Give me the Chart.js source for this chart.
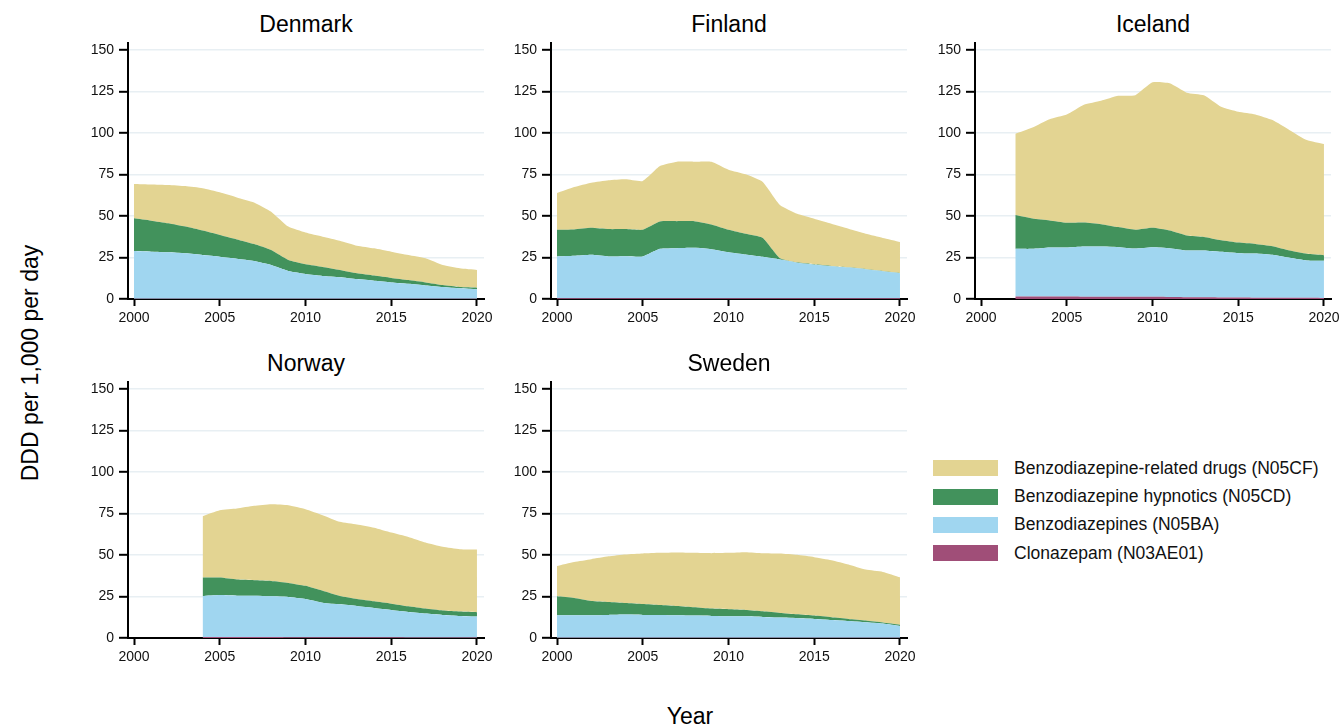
<!DOCTYPE html>
<html>
<head>
<meta charset="utf-8">
<script src="https://cdn.jsdelivr.net/npm/chart.js@4"></script>
<style>
  body { margin: 0; background: #fff; font-family: "Liberation Sans", Arial, sans-serif; }
  #page { position: relative; width: 1341px; height: 727px; overflow: hidden; }
  .panel { position: absolute; width: 432px; height: 335px; }
  .ptitle { position: absolute; width: 356px; text-align: center; font-size: 23px; line-height: 23px; color: #000; }
  .ytitle { position: absolute; left: 30px; top: 363px; transform: translate(-50%, -50%) rotate(-90deg);
            font-size: 23px; white-space: nowrap; color: #000; }
  .xtitle { position: absolute; left: 690px; top: 716px; transform: translate(-50%, -50%);
            font-size: 23px; color: #000; }
  #legend { position: absolute; left: 933px; top: 454px; }
  .item { display: flex; align-items: center; height: 28.4px; font-size: 17.5px; color: #111; }
  .swatch { width: 65px; height: 16px; margin-right: 16px; }
</style>
</head>
<body>
<div id="page">
  <div class="ytitle">DDD per 1,000 per day</div>
  <div class="xtitle">Year</div>
  <div id="legend"></div>
</div>
<script>
const years = [2000, 2001, 2002, 2003, 2004, 2005, 2006, 2007, 2008, 2009, 2010,
               2011, 2012, 2013, 2014, 2015, 2016, 2017, 2018, 2019, 2020];
const xTicks = [2000, 2005, 2010, 2015, 2020];
const yTicks = [0, 25, 50, 75, 100, 125, 150];

const seriesNames = ["Benzodiazepine-related drugs (N05CF)", "Benzodiazepine hypnotics (N05CD)",
                     "Benzodiazepines (N05BA)", "Clonazepam (N03AE01)"];
const seriesColors = ["#e3d492", "#42925c", "#a0d6f0", "#a04e78"];

// Denmark
const dkClon = [0.2,0.2,0.2,0.2,0.2,0.2,0.2,0.2,0.2,0.2,0.2,0.2,0.2,0.2,0.2,0.2,0.2,0.2,0.2,0.2,0.2];
const dkBenzo = [28.7,28.3,27.9,27.3,26.3,25.3,24.1,22.7,20.3,16.7,14.9,13.7,12.9,11.8,10.8,9.8,9.0,8.0,7.0,6.2,5.6];
const dkHyp = [19.7,18.7,17.5,16.1,14.7,13.1,11.6,10.2,9.0,6.6,5.8,5.4,4.4,3.5,3.1,2.7,2.2,1.8,1.2,0.8,1.0];
const dkRel = [20.7,21.8,23.1,24.4,25.5,25.7,25.3,25.1,23.1,20.1,19.1,18.2,17.6,16.6,16.4,15.8,15.1,14.5,12.1,11.3,10.7];

// Finland
const fiClon = [0.4,0.4,0.4,0.4,0.4,0.4,0.4,0.4,0.4,0.4,0.4,0.4,0.4,0.4,0.4,0.4,0.4,0.4,0.4,0.4,0.4];
const fiBenzo = [25.2,25.6,26.2,25.2,25.4,25.2,29.8,30.2,30.4,29.6,27.8,26.4,25.0,23.4,21.5,20.3,19.3,18.5,17.5,16.3,15.1];
const fiHyp = [16.1,15.9,16.3,16.5,16.3,16.1,16.5,16.3,16.1,14.9,13.5,12.5,11.4,0.8,0.2,0.2,0.2,0.2,0.2,0.2,0.2];
const fiRel = [22.1,25.5,27.1,29.4,30.0,29.4,33.4,35.8,35.8,37.8,36.2,35.8,33.7,32.0,29.2,27.4,25.4,23.2,21.2,19.9,18.7];

// Iceland (from 2002)
const isClon = [null,null,1.5,1.5,1.5,1.5,1.4,1.4,1.4,1.3,1.3,1.2,1.1,1.0,0.9,0.9,0.8,0.8,0.7,0.7,0.6];
const isBenzo = [null,null,28.7,28.7,29.5,29.5,30.2,30.2,29.8,29.1,29.9,29.4,28.1,28.2,27.5,26.7,26.6,25.8,24.1,22.5,22.4];
const isHyp = [null,null,20.4,18.3,16.3,14.9,14.5,13.5,12.1,11.3,11.7,10.7,9.1,8.2,7.0,6.4,5.8,5.2,4.4,4.0,3.4];
const isRel = [null,null,48.9,54.8,61.0,65.2,70.9,74.3,79.1,81.1,87.6,88.6,86.0,85.3,80.4,78.8,78.0,76.0,72.5,68.5,66.9];

// Norway (from 2004)
const noClon = [null,null,null,null,0.6,0.6,0.6,0.6,0.6,0.5,0.5,0.5,0.4,0.4,0.4,0.4,0.3,0.3,0.3,0.3,0.3];
const noBenzo = [null,null,null,null,24.7,25.3,24.9,24.9,24.5,24.2,23.0,20.8,19.9,18.9,17.7,16.5,15.4,14.4,13.6,13.0,12.6];
const noHyp = [null,null,null,null,11.1,10.5,9.7,9.3,9.3,8.5,7.9,7.1,5.0,4.2,4.0,3.8,3.4,3.0,2.6,2.6,2.6];
const noRel = [null,null,null,null,37.0,40.6,42.8,44.8,46.2,46.8,46.2,45.6,44.7,44.9,44.3,42.8,41.8,39.8,38.4,37.6,37.8];

// Sweden
const seClon = [0.2,0.2,0.2,0.2,0.2,0.2,0.2,0.2,0.2,0.2,0.2,0.2,0.2,0.2,0.2,0.2,0.2,0.2,0.2,0.2,0.2];
const seBenzo = [13.5,13.5,13.5,13.7,13.9,13.7,13.7,13.5,13.3,13.1,12.9,12.9,12.5,12.1,11.7,11.3,10.7,10.1,9.3,8.5,7.0];
const seHyp = [11.4,10.4,8.6,7.8,7.0,6.6,6.0,5.6,5.0,4.4,4.2,3.8,3.4,2.8,2.4,2.0,1.6,1.2,1.0,0.6,0.8];
const seRel = [18.3,21.7,25.2,27.5,29.2,30.4,31.4,32.2,32.8,33.4,34.0,34.8,35.0,35.8,35.8,35.2,34.4,32.8,30.7,30.5,28.6];

// panel: title, [related, hypnotics, benzos, clonazepam], chart area left/top
const panels = [
  ["Denmark", [dkRel, dkHyp, dkBenzo, dkClon], 128, 43],
  ["Finland", [fiRel, fiHyp, fiBenzo, fiClon], 551, 43],
  ["Iceland", [isRel, isHyp, isBenzo, isClon], 975, 43],
  ["Norway",  [noRel, noHyp, noBenzo, noClon], 128, 382],
  ["Sweden",  [seRel, seHyp, seBenzo, seClon], 551, 382]
];

const FONT = "'Liberation Sans', Arial, sans-serif";
Chart.defaults.font.family = FONT;
Chart.defaults.color = "#111";

function points(vals) {
  return years.map((yr, i) => vals[i] == null ? null : {x: yr, y: vals[i]}).filter(p => p);
}

const page = document.getElementById("page");

panels.forEach(([title, series, areaLeft, areaTop]) => {
  const head = document.createElement("div");
  head.className = "ptitle";
  head.textContent = title;
  head.style.left = areaLeft + "px";
  head.style.top = (areaTop - 30) + "px";
  page.appendChild(head);

  const box = document.createElement("div");
  box.className = "panel";
  box.style.left = (areaLeft - 58) + "px";
  box.style.top = (areaTop - 43) + "px";
  const cv = document.createElement("canvas");
  box.appendChild(cv);
  page.appendChild(box);

  // bottom layer first so the stack fills upward
  const datasets = [3, 2, 1, 0].map((k, j) => ({
    label: seriesNames[k],
    data: points(series[k]),
    backgroundColor: seriesColors[k],
    borderColor: seriesColors[k],
    borderWidth: 0,
    pointRadius: 0,
    tension: 0.15,
    fill: j === 0 ? "origin" : "-1"
  }));

  new Chart(cv, {
    type: "line",
    data: { datasets: datasets },
    options: {
      responsive: true,
      maintainAspectRatio: false,
      animation: false,
      layout: { padding: { right: 18, left: 0, top: 43, bottom: 0 } },
      plugins: {
        legend: { display: false },
        tooltip: { enabled: false }
      },
      scales: {
        x: {
          type: "linear",
          min: 1999.65,
          max: 2020.41,
          afterBuildTicks: s => { s.ticks = xTicks.map(v => ({value: v})); },
          afterFit: s => { s.height = 36; },
          grid: { drawOnChartArea: false, tickLength: 7, tickColor: "#000", tickWidth: 2 },
          border: { display: true, color: "#000", width: 2 },
          ticks: { font: { size: 14 }, color: "#111", padding: 4, maxRotation: 0, callback: v => String(v) }
        },
        y: {
          stacked: true,
          min: 0,
          max: 154.2,
          afterBuildTicks: s => { s.ticks = yTicks.map(v => ({value: v})); },
          afterFit: s => { s.width = 58; },
          grid: { color: "#e8eff3", lineWidth: 1.6, tickLength: 9, tickColor: "#000", tickWidth: 2 },
          border: { display: true, color: "#000", width: 2 },
          ticks: { font: { size: 14 }, color: "#111", padding: 5 }
        }
      }
    }
  });
});

// legend, top to bottom as in the figure
const legend = document.getElementById("legend");
seriesNames.forEach((name, k) => {
  const row = document.createElement("div");
  row.className = "item";
  const sw = document.createElement("div");
  sw.className = "swatch";
  sw.style.background = seriesColors[k];
  const tx = document.createElement("span");
  tx.textContent = name;
  row.appendChild(sw);
  row.appendChild(tx);
  legend.appendChild(row);
});
</script>
</body>
</html>
